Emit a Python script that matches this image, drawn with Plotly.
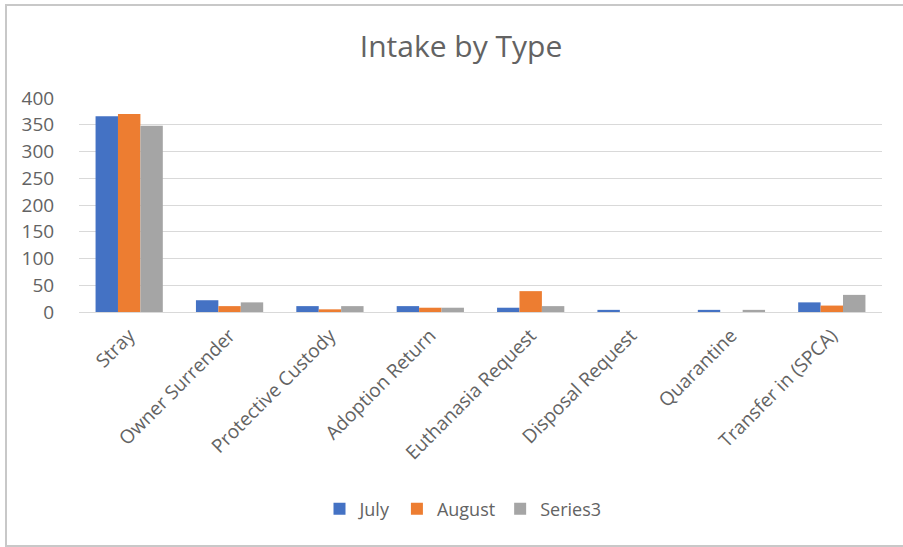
import plotly.graph_objects as go

categories = ["Stray", "Owner Surrender", "Protective Custody", "Adoption Return",
              "Euthanasia Request", "Disposal Request", "Quarantine", "Transfer in (SPCA)"]
july = [366, 22, 11, 11, 8, 4, 4, 18]
august = [370, 11, 5, 8, 39, 0, 0, 12]
series3 = [348, 18, 11, 8, 11, 0, 4, 32]
y_ticks = [0, 50, 100, 150, 200, 250, 300, 350, 400]

FONT = "Open Sans"
TXT = "#636363"

fig = go.Figure()
for name, vals, col in [("July", july, "#4472C4"), ("August", august, "#ED7D31"),
                        ("Series3", series3, "#A5A5A5")]:
    fig.add_trace(go.Bar(name=name, x=categories, y=vals, marker_color=col,
                         marker_line_width=0))

L, R, T, B = 79, 21, 98, 235
W, H = 903, 547
pw, ph = W - L - R, H - T - B

def px_to_paper_x(px):
    return (px - L) / pw

def px_to_paper_y(py):
    return (H - B - py) / ph

fig.add_shape(type="rect", xref="paper", yref="paper",
              x0=px_to_paper_x(6), x1=px_to_paper_x(906),
              y0=px_to_paper_y(546), y1=px_to_paper_y(5),
              line=dict(color="#C8C8C8", width=2), fillcolor="rgba(0,0,0,0)", layer="below")

fig.update_layout(
    width=W, height=H,
    margin=dict(l=L, r=R, t=T, b=B, autoexpand=False),
    paper_bgcolor="white", plot_bgcolor="white",
    barmode="group", bargap=0.33, bargroupgap=0,
    font=dict(family=FONT, color=TXT, size=19),
    title=dict(text="Intake by Type", x=461 / W, xanchor="center", xref="container",
               y=1 - 46 / H, yanchor="middle", yref="container",
               font=dict(size=30, color=TXT, family=FONT)),
    showlegend=True,
    legend=dict(orientation="h", x=463 / W, xanchor="center", xref="container",
                y=1 - 509 / H, yref="container", yanchor="middle",
                font=dict(size=18, color=TXT), itemwidth=30, tracegroupgap=0),
    xaxis=dict(tickangle=-45, showgrid=False, showline=False, ticks="outside",
               ticklen=4, tickcolor="rgba(0,0,0,0)", tickfont=dict(size=19, color=TXT),
               automargin=False),
    yaxis=dict(range=[0, 400], tickvals=y_ticks, showgrid=True, gridcolor="#D9D9D9",
               gridwidth=1, zeroline=True, zerolinecolor="#D9D9D9", zerolinewidth=1,
               showline=False, ticks="outside", ticklen=20, tickcolor="rgba(0,0,0,0)",
               tickfont=dict(size=19, color=TXT), automargin=False),
)

fig.write_html("out.html", config={"displayModeBar": False},
               post_script="document.body.style.margin='0';")
